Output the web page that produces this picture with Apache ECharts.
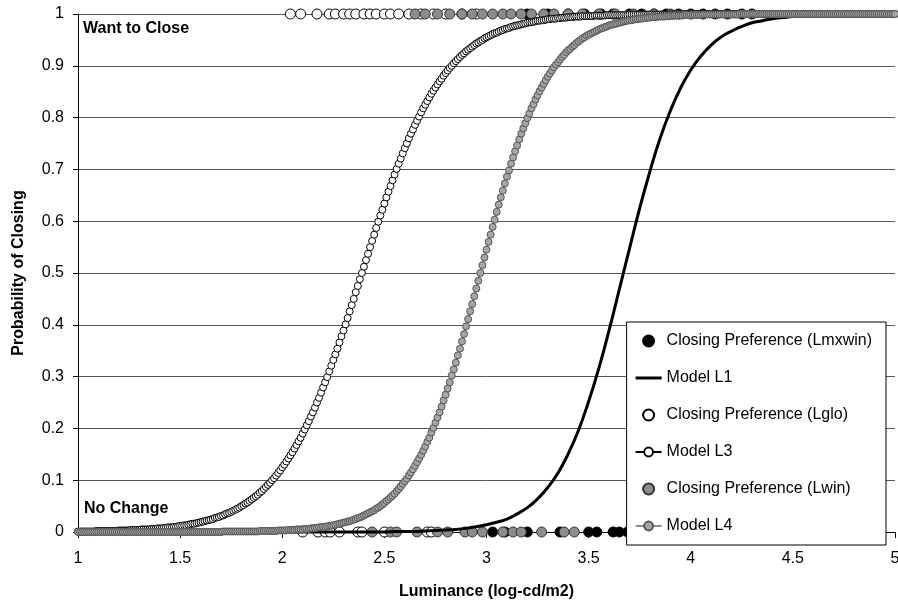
<!DOCTYPE html>
<html>
<head>
<meta charset="utf-8">
<script src="https://cdn.jsdelivr.net/npm/echarts@6/dist/echarts.min.js"></script>
<style>html,body{margin:0;padding:0;background:#fff;}#c{width:898px;height:606px;}</style>
</head>
<body>
<div id="c"></div>
<script>
// ---------- data ----------
const X_TICKS = [1, 1.5, 2, 2.5, 3, 3.5, 4, 4.5, 5];
const Y_TICKS = [0, 0.1, 0.2, 0.3, 0.4, 0.5, 0.6, 0.7, 0.8, 0.9, 1];

// observed closing preferences: x positions of "want to close" (1) and "no change" (0) responses
const LMXWIN_CLOSE_X = [3.20, 3.30, 3.40, 3.48, 3.56, 3.62, 3.70, 3.76, 3.82, 3.88, 3.94, 4.00, 4.06, 4.12, 4.18, 4.25, 4.30];
const LMXWIN_NOCHANGE_X = [3.03, 3.09, 3.20, 3.36, 3.50, 3.54, 3.62, 3.65, 3.69, 3.78, 3.81, 3.84, 3.90, 4.05, 4.08, 4.11];
const LGLO_CLOSE_X = [2.04, 2.09, 2.17, 2.23, 2.26, 2.30, 2.33, 2.36, 2.40, 2.43, 2.46, 2.50, 2.53, 2.57, 2.62, 2.68, 2.74, 2.80, 2.88, 2.95];
const LGLO_NOCHANGE_X = [2.10, 2.175, 2.21, 2.235, 2.28, 2.37, 2.39, 2.50, 2.71, 2.73];
const LWIN_CLOSE_X = [2.65, 2.70, 2.76, 2.82, 2.88, 2.93, 2.98, 3.03, 3.08, 3.12, 3.17, 3.22, 3.28, 3.33, 3.40, 3.47, 3.55, 3.63, 3.72, 3.82, 3.90];
const LWIN_NOCHANGE_X = [2.44, 2.53, 2.56, 2.66, 2.76, 2.81, 2.895, 2.93, 2.98, 3.08, 3.13, 3.17, 3.27, 3.38, 3.43];

// model curves sampled along luminance
const MODEL_X = [
1.00,1.01,1.02,1.03,1.04,1.05,1.06,1.07,1.08,1.09,1.10,1.11,1.12,1.13,1.14,1.15,1.16,1.17,1.18,1.19,
1.20,1.21,1.22,1.23,1.24,1.25,1.26,1.27,1.28,1.29,1.30,1.31,1.32,1.33,1.34,1.35,1.36,1.37,1.38,1.39,
1.40,1.41,1.42,1.43,1.44,1.45,1.46,1.47,1.48,1.49,1.50,1.51,1.52,1.53,1.54,1.55,1.56,1.57,1.58,1.59,
1.60,1.61,1.62,1.63,1.64,1.65,1.66,1.67,1.68,1.69,1.70,1.71,1.72,1.73,1.74,1.75,1.76,1.77,1.78,1.79,
1.80,1.81,1.82,1.83,1.84,1.85,1.86,1.87,1.88,1.89,1.90,1.91,1.92,1.93,1.94,1.95,1.96,1.97,1.98,1.99,
2.00,2.01,2.02,2.03,2.04,2.05,2.06,2.07,2.08,2.09,2.10,2.11,2.12,2.13,2.14,2.15,2.16,2.17,2.18,2.19,
2.20,2.21,2.22,2.23,2.24,2.25,2.26,2.27,2.28,2.29,2.30,2.31,2.32,2.33,2.34,2.35,2.36,2.37,2.38,2.39,
2.40,2.41,2.42,2.43,2.44,2.45,2.46,2.47,2.48,2.49,2.50,2.51,2.52,2.53,2.54,2.55,2.56,2.57,2.58,2.59,
2.60,2.61,2.62,2.63,2.64,2.65,2.66,2.67,2.68,2.69,2.70,2.71,2.72,2.73,2.74,2.75,2.76,2.77,2.78,2.79,
2.80,2.81,2.82,2.83,2.84,2.85,2.86,2.87,2.88,2.89,2.90,2.91,2.92,2.93,2.94,2.95,2.96,2.97,2.98,2.99,
3.00,3.01,3.02,3.03,3.04,3.05,3.06,3.07,3.08,3.09,3.10,3.11,3.12,3.13,3.14,3.15,3.16,3.17,3.18,3.19,
3.20,3.21,3.22,3.23,3.24,3.25,3.26,3.27,3.28,3.29,3.30,3.31,3.32,3.33,3.34,3.35,3.36,3.37,3.38,3.39,
3.40,3.41,3.42,3.43,3.44,3.45,3.46,3.47,3.48,3.49,3.50,3.51,3.52,3.53,3.54,3.55,3.56,3.57,3.58,3.59,
3.60,3.61,3.62,3.63,3.64,3.65,3.66,3.67,3.68,3.69,3.70,3.71,3.72,3.73,3.74,3.75,3.76,3.77,3.78,3.79,
3.80,3.81,3.82,3.83,3.84,3.85,3.86,3.87,3.88,3.89,3.90,3.91,3.92,3.93,3.94,3.95,3.96,3.97,3.98,3.99,
4.00,4.01,4.02,4.03,4.04,4.05,4.06,4.07,4.08,4.09,4.10,4.11,4.12,4.13,4.14,4.15,4.16,4.17,4.18,4.19,
4.20,4.21,4.22,4.23,4.24,4.25,4.26,4.27,4.28,4.29,4.30,4.31,4.32,4.33,4.34,4.35,4.36,4.37,4.38,4.39,
4.40,4.41,4.42,4.43,4.44,4.45,4.46,4.47,4.48,4.49,4.50,4.51,4.52,4.53,4.54,4.55,4.56,4.57,4.58,4.59,
4.60,4.61,4.62,4.63,4.64,4.65,4.66,4.67,4.68,4.69,4.70,4.71,4.72,4.73,4.74,4.75,4.76,4.77,4.78,4.79,
4.80,4.81,4.82,4.83,4.84,4.85,4.86,4.87,4.88,4.89,4.90,4.91,4.92,4.93,4.94,4.95,4.96,4.97,4.98,4.99,
5.00];

const MODEL_L3 = [
0.001,0.001,0.001,0.001,0.001,0.001,0.001,0.001,0.001,
0.002,0.002,0.002,0.002,0.002,0.002,0.002,0.002,0.002,0.002,0.002,
0.003,0.003,0.003,0.003,0.003,0.003,
0.004,0.004,0.004,0.004,0.004,
0.005,0.005,0.005,0.005,0.005,
0.006,0.006,0.006,0.007,0.007,0.007,0.008,0.008,0.009,0.009,0.009,0.010,0.010,0.011,0.012,0.012,0.013,0.013,
0.014,0.015,0.016,0.016,0.017,0.018,
0.019,0.020,0.021,0.022,0.023,0.024,0.025,0.027,0.028,0.029,0.031,0.032,0.034,0.036,0.037,0.039,0.041,0.043,0.045,0.047,
0.050,0.052,0.055,0.057,0.060,0.063,0.066,0.069,0.072,0.076,0.079,0.083,0.087,0.091,0.095,0.100,0.104,0.109,0.114,0.119,
0.125,0.130,0.136,0.142,0.148,0.154,0.161,0.168,0.175,0.182,0.190,0.198,0.206,0.214,0.223,0.231,0.240,0.250,0.259,0.269,
0.279,0.289,0.299,0.310,0.321,0.332,0.343,0.354,0.366,0.378,0.389,0.401,0.413,0.426,0.438,0.450,0.463,0.475,0.488,0.500,
0.512,0.525,0.537,0.550,0.562,0.574,0.587,0.599,0.611,0.622,
0.634,0.646,0.657,0.668,0.679,0.690,0.701,0.711,0.721,0.731,
0.741,0.750,0.760,0.769,0.777,0.786,0.794,0.802,0.810,0.818,
0.825,0.832,0.839,0.846,0.852,0.858,0.864,0.870,0.875,0.881,
0.886,0.891,0.896,0.900,0.905,0.909,0.913,0.917,0.921,0.924,
0.928,0.931,0.934,0.937,0.940,0.943,0.945,0.948,0.950,0.953,
0.955,0.957,0.959,0.961,0.963,0.964,0.966,0.968,0.969,0.971,
0.972,0.973,0.975,0.976,0.977,0.978,0.979,0.980,0.981,0.982,
0.983,0.984,0.984,0.985,0.986,0.987,0.987,0.988,0.988,0.989,
0.990,0.990,0.991,0.991,0.991,0.992,0.992,0.993,0.993,0.993,
0.994,0.994,0.994,0.995,0.995,0.995,0.995,0.996,0.996,0.996,
0.996,0.996,0.996,0.997,0.997,0.997,0.997,0.997,0.997,0.998,
0.998,0.998,0.998,0.998,0.998,0.998,0.998,0.998,0.998,0.998,
0.999,0.999,0.999,0.999,0.999,0.999,0.999,0.999,0.999,0.999,0.999,0.999,0.999,0.999,0.999,0.999,0.999,0.999,0.999,0.999,
1,1,1,1,1,1,1,1,1,1,1,1,1,1,1,1,1,1,1,1,
1,1,1,1,1,1,1,1,1,1,1,1,1,1,1,1,1,1,1,1,
1,1,1,1,1,1,1,1,1,1,1,1,1,1,1,1,1,1,1,1,
1,1,1,1,1,1,1,1,1,1,1,1,1,1,1,1,1,1,1,1,
1,1,1,1,1,1,1,1,1,1,1,1,1,1,1,1,1,1,1,1,
1,1,1,1,1,1,1,1,1,1,1];

const MODEL_L4 = [
0,0,0,0,0,0,0,0,0,0,0,0,0,0,0,0,0,0,0,0,
0,0,0,0,0,0,0,0,0,0,0,0,0,0,0,0,0,0,0,0,
0,0,0,0,0,0,0,0,0,0,0,0,0,0,0,0,0,0,0,0,
0,0,0,0,0,0,0,0,0,0,0,
0.001,0.001,0.001,0.001,0.001,0.001,0.001,0.001,0.001,0.001,0.001,0.001,0.001,0.001,0.001,0.001,0.001,0.001,
0.002,0.002,0.002,0.002,0.002,0.002,0.002,0.002,0.002,
0.003,0.003,0.003,0.003,0.003,
0.004,0.004,0.004,0.004,
0.005,0.005,0.005,0.005,
0.006,0.006,0.006,0.007,0.007,0.008,0.008,0.009,0.009,0.010,0.010,0.011,0.012,0.012,0.013,0.014,
0.015,0.016,0.017,0.018,0.019,0.020,0.021,0.022,0.024,0.025,0.027,0.028,0.030,0.032,0.034,0.036,0.038,0.040,0.042,0.045,
0.047,0.050,0.053,0.056,0.060,0.063,0.067,0.070,0.074,0.079,0.083,0.088,0.093,0.098,0.103,0.109,0.115,0.121,0.128,0.135,
0.142,0.149,0.157,0.165,0.174,0.182,0.192,0.201,0.211,0.221,0.231,0.242,0.254,0.265,0.277,0.289,0.302,0.314,0.327,0.341,
0.354,0.368,0.382,0.397,0.411,0.426,0.440,0.455,0.470,0.485,
0.500,
0.515,0.530,0.545,0.560,0.574,0.589,0.603,0.618,0.632,0.646,
0.659,0.673,0.686,0.698,0.711,0.723,0.735,0.746,0.758,0.769,
0.779,0.789,0.799,0.808,0.818,0.826,0.835,0.843,0.851,0.858,
0.865,0.872,0.879,0.885,0.891,0.897,0.902,0.907,0.912,0.917,
0.921,0.926,0.930,0.933,0.937,0.940,0.944,0.947,0.950,0.953,
0.955,0.958,0.960,0.962,0.964,0.966,0.968,0.970,0.972,0.973,
0.975,0.976,0.978,0.979,0.980,0.981,0.982,0.983,0.984,0.985,
0.986,0.987,0.988,0.988,0.989,0.990,0.990,0.991,0.991,0.992,
0.992,0.993,0.993,0.994,0.994,0.994,0.995,0.995,0.995,0.995,
0.996,0.996,0.996,0.996,0.997,0.997,0.997,0.997,0.997,0.998,
0.998,0.998,0.998,0.998,0.998,0.998,0.998,0.998,
0.999,0.999,0.999,0.999,0.999,0.999,0.999,0.999,0.999,0.999,0.999,0.999,0.999,0.999,0.999,0.999,0.999,0.999,
1,1,1,1,1,1,1,1,1,1,1,1,1,1,1,1,1,1,1,1,
1,1,1,1,1,1,1,1,1,1,1,1,1,1,1,1,1,1,1,1,
1,1,1,1,1,1,1,1,1,1,1,1,1,1,1,1,1,1,1,1,
1,1,1,1,1,1,1,1,1,1,1,1,1,1,1,1,1];

const L1_X = [1.00,1.05,1.10,1.15,1.20,1.25,1.30,1.35,1.40,1.45,1.50,1.55,1.60,1.65,1.70,1.75,1.80,1.85,1.90,1.95,
2.00,2.05,2.10,2.15,2.20,2.25,2.30,2.35,2.40,2.45,2.50,2.55,2.60,2.65,2.70,2.75,2.80,2.85,2.90,2.95,
3.00,3.05,3.10,3.15,3.20,3.25,3.30,3.35,3.40,3.45,3.50,3.55,3.60,3.65,3.70,3.75,3.80,3.85,3.90,3.95,
4.00,4.05,4.10,4.15,4.20,4.25,4.30,4.35,4.40,4.45,4.50,4.55,4.60,4.65,4.70,4.75,4.80,4.85,4.90,4.95,5.00];
const MODEL_L1 = [0,0,0,0,0,0,0,0,0,0,0,0,0,0,0,0,0,0,0,0,
0,0,0,0,0,0,0,0,0,0,0,0.001,0.001,0.001,0.002,0.003,0.004,0.005,0.007,0.010,
0.014,0.019,0.025,0.035,0.047,0.064,0.086,0.114,0.151,0.196,0.252,0.316,0.389,0.468,0.547,0.625,0.696,0.760,0.813,0.857,
0.892,0.919,0.940,0.956,0.967,0.976,0.983,0.987,0.991,0.993,0.995,0.996,0.997,0.998,0.999,0.999,0.999,1,1,1,1];

// ---------- chart ----------
const FONT = '"Liberation Sans", Arial, sans-serif';
function obs(closeX, noChangeX) {
  return closeX.map(x => [x, 1]).concat(noChangeX.map(x => [x, 0]));
}
function curve(xs, ys) { return xs.map((x, i) => [x, ys[i]]); }

const chart = echarts.init(document.getElementById('c'), null, {renderer: 'canvas'});
chart.setOption({
  animation: false,
  backgroundColor: '#ffffff',
  grid: {left: 78, right: 3, top: 14, bottom: 74, containLabel: false, outerBoundsMode: 'none'},
  xAxis: {
    type: 'value', min: X_TICKS[0], max: X_TICKS[X_TICKS.length - 1], interval: 0.5,
    name: 'Luminance (log-cd/m2)', nameLocation: 'middle', nameGap: 52,
    nameTextStyle: {fontFamily: FONT, fontSize: 16, fontWeight: 'bold', color: '#000'},
    axisLine: {show: true, lineStyle: {color: '#000', width: 1}},
    axisTick: {show: true, length: 6, lineStyle: {color: '#000'}},
    axisLabel: {margin: 19, fontFamily: FONT, fontSize: 16, color: '#000', hideOverlap: false},
    splitLine: {show: false}
  },
  yAxis: {
    type: 'value', min: Y_TICKS[0], max: Y_TICKS[Y_TICKS.length - 1], interval: 0.1,
    name: 'Probability of Closing', nameLocation: 'middle', nameGap: 51,
    nameTextStyle: {fontFamily: FONT, fontSize: 16, fontWeight: 'bold', color: '#000'},
    axisLine: {show: true, lineStyle: {color: '#000', width: 1}},
    axisTick: {show: true, length: 5, lineStyle: {color: '#000'}},
    axisLabel: {margin: 14, fontFamily: FONT, fontSize: 16, color: '#000'},
    splitLine: {show: true, lineStyle: {color: '#555', width: 1}}
  },
  legend: {
    orient: 'vertical', right: 12, top: 322,
    backgroundColor: '#fff', borderColor: '#000', borderWidth: 1, borderRadius: 0,
    padding: [11, 14, 11, 8], itemGap: 21, itemWidth: 26, itemHeight: 11,
    textStyle: {fontFamily: FONT, fontSize: 16, color: '#000'},
    data: [
      'Closing Preference (Lmxwin)',
      {name: 'Model L1', icon: 'path://M0,0 L26,0 L26,3 L0,3 Z'},
      'Closing Preference (Lglo)', 'Model L3', 'Closing Preference (Lwin)', 'Model L4']
  },
  graphic: [
    {type: 'text', left: 83, top: 21, style: {text: 'Want to Close', fontFamily: FONT, fontSize: 16, fontWeight: 'bold', fill: '#000'}},
    {type: 'text', left: 84, top: 501, style: {text: 'No Change', fontFamily: FONT, fontSize: 16, fontWeight: 'bold', fill: '#000'}}
  ],
  series: [
    {name: 'Closing Preference (Lmxwin)', type: 'scatter', clip: false, symbol: 'circle', symbolSize: 10,
     itemStyle: {color: '#000', borderColor: '#000', borderWidth: 1, opacity: 1},
     data: obs(LMXWIN_CLOSE_X, LMXWIN_NOCHANGE_X)},
    {name: 'Model L1', type: 'line', clip: false, showSymbol: false, symbol: 'none', smooth: 0.5,
     lineStyle: {color: '#000', width: 3}, itemStyle: {color: '#000'},
     data: curve(L1_X, MODEL_L1)},
    {name: 'Closing Preference (Lglo)', type: 'scatter', clip: false, symbol: 'circle', symbolSize: 10,
     itemStyle: {color: '#fff', borderColor: '#000', borderWidth: 1, opacity: 1},
     data: obs(LGLO_CLOSE_X, LGLO_NOCHANGE_X)},
    {name: 'Model L3', type: 'line', clip: false, symbol: 'circle', symbolSize: 7, showSymbol: true, showAllSymbol: true,
     lineStyle: {color: '#000', width: 1}, itemStyle: {color: '#fff', borderColor: '#000', borderWidth: 1},
     data: curve(MODEL_X, MODEL_L3)},
    {name: 'Closing Preference (Lwin)', type: 'scatter', clip: false, symbol: 'circle', symbolSize: 10,
     itemStyle: {color: '#8c8c8c', borderColor: '#333', borderWidth: 1, opacity: 1},
     data: obs(LWIN_CLOSE_X, LWIN_NOCHANGE_X)},
    {name: 'Model L4', type: 'line', clip: false, symbol: 'circle', symbolSize: 7, showSymbol: true, showAllSymbol: true,
     lineStyle: {color: '#8c8c8c', width: 2}, itemStyle: {color: '#a6a6a6', borderColor: '#555', borderWidth: 1},
     data: curve(MODEL_X, MODEL_L4)}
  ]
});
</script>
</body>
</html>
